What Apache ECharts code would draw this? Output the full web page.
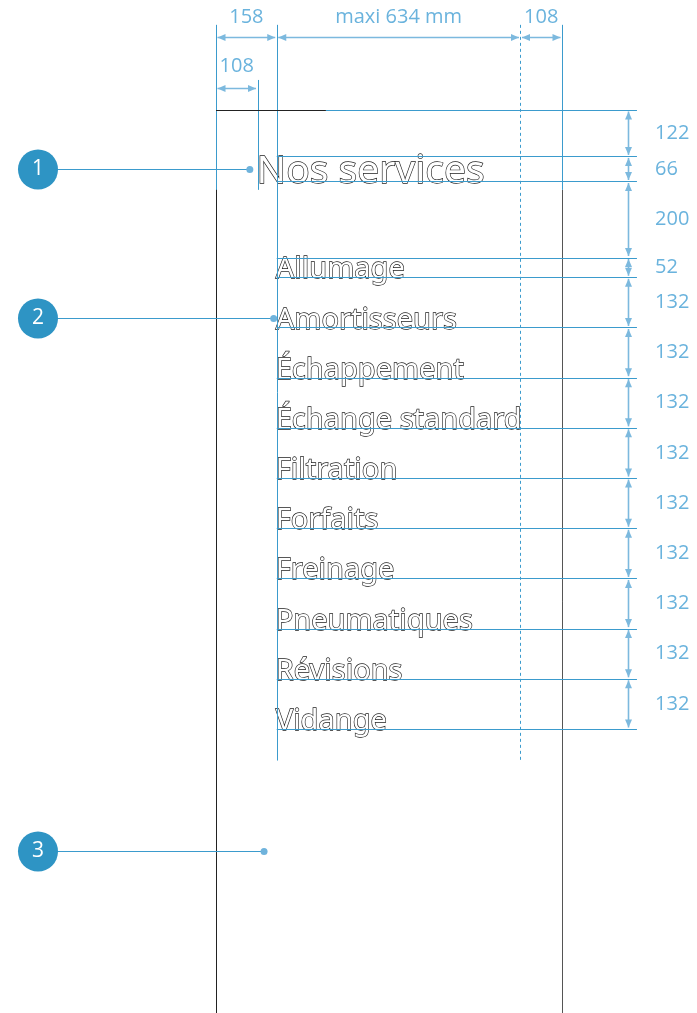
<!DOCTYPE html>
<html>
<head>
<meta charset="utf-8">
<script src="https://cdn.jsdelivr.net/npm/echarts@6/dist/echarts.min.js"></script>
<style>html,body{margin:0;background:#fff}#main{width:697px;height:1013px}</style>
</head>
<body>
<div id="main"></div>
<script>
// cotes horizontales (mm)
var widthSteps = [158, 634, 108];
var widthLabels = ['158', 'maxi 634 mm', '108'];
var titleIndent = [108];
var titleIndentLabels = ['108'];
// cotes verticales (mm)
var heightSteps = [122, 66, 200, 52, 132, 132, 132, 132, 132, 132, 132, 132, 132];
var heightLabels = ['122', '66', '200', '52', '132', '132', '132', '132', '132', '132', '132', '132', '132'];
// textes
var titleText = ['Nos services'];
var menuItems = ['Allumage', 'Amortisseurs', 'Échappement', 'Échange standard', 'Filtration',
  'Forfaits', 'Freinage', 'Pneumatiques', 'Révisions', 'Vidange'];
var calloutNums = ['1', '2', '3'];

var BLUE = '#3b9bcd', LIGHT = '#7cb9de', LABEL = '#6ab3dd', INK = '#222', DARK = '#555';
var LABEL_FONT = '20px "Open Sans"';

function stops(steps) {
  var s = [0];
  steps.forEach(function (v) { s.push(s[s.length - 1] + v); });
  return s;
}
var xStops = stops(widthSteps);   // 0,158,792,900
var yStops = stops(heightSteps);  // 0 .. 1628

// mise en page (mm)
var TOP_EXT = -224, SHORT_END = 210, LONG_END = 1711, PAGE_END = 2420, GUIDE_END = 1095, INK_END = 286;
var DIM_Y1 = -192, DIM_Y1_LABEL = -245, DIM_Y2 = -58, DIM_Y2_LABEL = -116, DIM_Y2_TOP = -79;
var DIM_X = 1072, DIM_X_LABEL = 1142, CALLOUT_X = -463;
var capItem = heightSteps[3];
var calloutAnchors = [
  [titleIndent[0] - 20, (yStops[1] + yStops[2]) / 2],
  [xStops[1] - 8, yStops[4] + heightSteps[4] - capItem / 2],
  [125, 1950]
];

var vSegments = [
  [0, 0, PAGE_END, INK, 0],
  [xStops[3], SHORT_END, PAGE_END, DARK, 0],
  [0, TOP_EXT, SHORT_END, BLUE, 0],
  [titleIndent[0], DIM_Y2_TOP, SHORT_END, BLUE, 0],
  [xStops[1], TOP_EXT, LONG_END, BLUE, 0],
  [xStops[2], TOP_EXT, LONG_END, BLUE, 1],
  [xStops[3], TOP_EXT, SHORT_END, BLUE, 0]
];
var hSegments = [[0, 0, INK_END, INK]];
yStops.forEach(function (y, i) {
  hSegments.push([y, i === 0 ? INK_END : xStops[1], GUIDE_END, BLUE]);
});

function crisp(v) { return Math.round(v) + 0.5; }

function arrowShapes(p1, p2) {
  var dx = p2[0] - p1[0], dy = p2[1] - p1[1];
  var len = Math.sqrt(dx * dx + dy * dy);
  var ux = dx / len, uy = dy / len, nx = -uy, ny = ux;
  var L = 8, W = 3.5, g = 1.5;
  var a = [p1[0] + ux * g, p1[1] + uy * g], b = [p2[0] - ux * g, p2[1] - uy * g];
  return [
    { type: 'line', shape: { x1: a[0], y1: a[1], x2: b[0], y2: b[1] }, style: { stroke: LIGHT, lineWidth: 1.6 } },
    { type: 'polygon', shape: { points: [a, [a[0] + ux * L + nx * W, a[1] + uy * L + ny * W], [a[0] + ux * L - nx * W, a[1] + uy * L - ny * W]] }, style: { fill: LIGHT } },
    { type: 'polygon', shape: { points: [b, [b[0] - ux * L + nx * W, b[1] - uy * L + ny * W], [b[0] - ux * L - nx * W, b[1] - uy * L - ny * W]] }, style: { fill: LIGHT } }
  ];
}

var chart = echarts.init(document.getElementById('main'));

var option = {
  animation: false,
  grid: { left: 216, top: 110, width: 346, height: 619 },
  xAxis: { type: 'value', min: 0, max: xStops[3], show: false },
  yAxis: { type: 'value', min: 0, max: yStops[yStops.length - 1], inverse: true, show: false },
  series: [
    { // titre + menu (texte au trait)
      type: 'custom', silent: true,
      data: [[titleIndent[0], yStops[2], 39]].concat(menuItems.map(function (m, i) {
        return [xStops[1], yStops[4] + i * heightSteps[4], 29];
      })),
      renderItem: function (params, api) {
        var p = api.coord([api.value(0), api.value(1)]);
        var fs = api.value(2);
        var text = params.dataIndex === 0 ? titleText[0] : menuItems[params.dataIndex - 1];
        return { type: 'text', x: p[0] - 1, y: p[1] - fs * 0.25,
          style: { text: text, font: fs + 'px "Noto Sans"', fill: '#fff', stroke: '#1a1a1a', lineWidth: 1.3,
            align: 'left', verticalAlign: 'middle' } };
      }
    },
    { // traits verticaux
      type: 'custom', silent: true,
      data: vSegments.map(function (s) { return [s[0], s[1], s[2]]; }),
      renderItem: function (params, api) {
        var s = vSegments[params.dataIndex];
        var a = api.coord([api.value(0), api.value(1)]), b = api.coord([api.value(0), api.value(2)]);
        var x = crisp(a[0]);
        return { type: 'line', shape: { x1: x, y1: a[1], x2: x, y2: b[1] },
          style: { stroke: s[3], lineWidth: 1, lineDash: s[4] ? [3, 3] : null } };
      }
    },
    { // traits horizontaux
      type: 'custom', silent: true,
      data: hSegments.map(function (s) { return [s[1], s[0], s[2]]; }),
      renderItem: function (params, api) {
        var s = hSegments[params.dataIndex];
        var a = api.coord([api.value(0), api.value(1)]), b = api.coord([api.value(2), api.value(1)]);
        var y = crisp(a[1]);
        return { type: 'line', shape: { x1: a[0], y1: y, x2: b[0], y2: y }, style: { stroke: s[3], lineWidth: 1 } };
      }
    },
    { // cotes horizontales
      type: 'custom', silent: true,
      data: widthSteps.map(function (w, i) { return [xStops[i], DIM_Y1, w, 0]; })
        .concat(titleIndent.map(function (w) { return [0, DIM_Y2, w, 1]; })),
      renderItem: function (params, api) {
        var x0 = api.value(0), y = api.value(1), w = api.value(2), row = api.value(3);
        var a = api.coord([x0, y]), b = api.coord([x0 + w, y]);
        var lab = api.coord([x0 + w / 2, row ? DIM_Y2_LABEL : DIM_Y1_LABEL]);
        var text = row ? titleIndentLabels[0] : widthLabels[params.dataIndex];
        var kids = arrowShapes([a[0], crisp(a[1])], [b[0], crisp(b[1])]);
        kids.push({ type: 'text', x: lab[0], y: lab[1],
          style: { text: text, fill: LABEL, font: LABEL_FONT, align: 'center', verticalAlign: 'middle' } });
        return { type: 'group', children: kids };
      }
    },
    { // cotes verticales
      type: 'custom', silent: true,
      data: heightSteps.map(function (h, i) { return [DIM_X, yStops[i], h]; }),
      renderItem: function (params, api) {
        var x = api.value(0), y0 = api.value(1), h = api.value(2);
        var a = api.coord([x, y0]), b = api.coord([x, y0 + h]);
        var lab = api.coord([DIM_X_LABEL, y0 + h / 2]);
        var kids = arrowShapes([crisp(a[0]), a[1]], [crisp(b[0]), b[1]]);
        kids.push({ type: 'text', x: lab[0], y: lab[1],
          style: { text: heightLabels[params.dataIndex], fill: LABEL, font: LABEL_FONT, align: 'left', verticalAlign: 'middle' } });
        return { type: 'group', children: kids };
      }
    },
    { // repères
      type: 'custom', silent: true,
      data: calloutAnchors.map(function (c) { return [c[0], c[1]]; }),
      renderItem: function (params, api) {
        var dot = api.coord([api.value(0), api.value(1)]);
        var c = api.coord([CALLOUT_X, api.value(1)]);
        var y = crisp(dot[1]);
        return { type: 'group', children: [
          { type: 'line', shape: { x1: c[0], y1: y, x2: dot[0], y2: y }, style: { stroke: BLUE, lineWidth: 1.2 } },
          { type: 'circle', shape: { cx: dot[0], cy: y, r: 3.5 }, style: { fill: '#6fb3dc' } },
          { type: 'circle', shape: { cx: c[0], cy: y, r: 20 }, style: { fill: '#2e94c4' } },
          { type: 'text', x: c[0], y: y,
            style: { text: calloutNums[params.dataIndex], fill: '#fff', font: '21px "Open Sans"', align: 'center', verticalAlign: 'middle' } }
        ] };
      }
    }
  ]
};
chart.setOption(option);
</script>
</body>
</html>
